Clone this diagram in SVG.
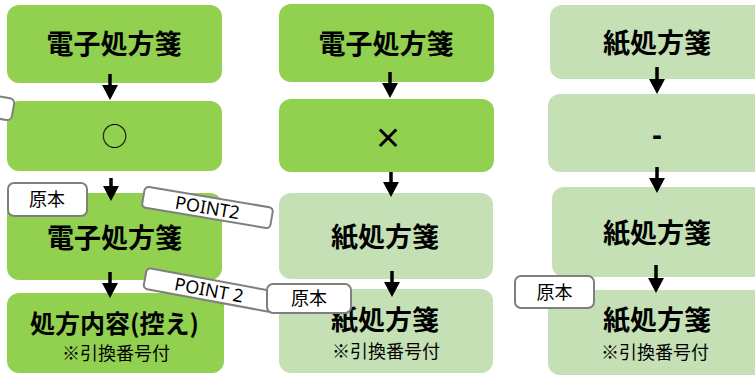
<svg xmlns="http://www.w3.org/2000/svg" width="755" height="376" viewBox="0 0 755 376">
<defs>
<style>
.dk{fill:#92d050}
.lt{fill:#c5e0b4}
.t{font-family:"Noto Sans CJK JP","Noto Sans",sans-serif;font-weight:bold;font-size:27px;fill:#000;text-anchor:middle}
.t2{font-family:"Noto Sans CJK JP","Noto Sans",sans-serif;font-weight:bold;font-size:25px;fill:#000;text-anchor:middle}
.s{font-family:"Noto Sans CJK JP","Noto Sans",sans-serif;font-size:18px;fill:#000;text-anchor:middle}
.lb{fill:#fff;stroke:#7f7f7f;stroke-width:2}
.lbt{font-family:"Noto Sans CJK JP","Noto Sans",sans-serif;font-size:18px;fill:#000;text-anchor:middle}
.pt{font-family:"Noto Sans","Noto Sans CJK JP",sans-serif;font-size:18px;fill:#000;text-anchor:middle}
.ar{stroke:#000;stroke-width:3.5;fill:none;marker-end:url(#ah)}
</style>
<marker id="ah" markerUnits="userSpaceOnUse" markerWidth="16" markerHeight="16" refX="8" refY="8" orient="auto">
<path d="M0,0 L15,8 L0,16 z" fill="#000"/>
</marker>
</defs>

<!-- column 1 -->
<g id="c1n1"><rect class="dk" x="7" y="5" width="215" height="78" rx="12"/><text class="t" x="114" y="54">電子処方箋</text></g>
<g id="c1n2"><rect class="dk" x="7" y="101" width="215" height="70" rx="12"/><text class="t" x="114.5" y="146" style="font-weight:normal;font-size:26px">○</text></g>
<g id="c1n3"><rect class="dk" x="7" y="193" width="215" height="87" rx="12"/><text class="t" x="114.5" y="248">電子処方箋</text></g>
<g id="c1n4"><rect class="dk" x="7" y="293" width="217" height="80" rx="12"/><text class="t2" x="114.5" y="333">処方内容(控え)</text><text class="s" x="116" y="360">※引換番号付</text></g>

<!-- column 2 -->
<g id="c2n1"><rect class="dk" x="279" y="4" width="215" height="78" rx="12"/><text class="t" x="386" y="54">電子処方箋</text></g>
<g id="c2n2"><rect class="dk" x="279" y="99" width="215" height="73" rx="12"/><text class="t" x="388" y="149" style="font-size:28px">×</text></g>
<g id="c2n3"><rect class="lt" x="279" y="193" width="214" height="86" rx="12"/><text class="t" x="385" y="247">紙処方箋</text></g>
<g id="c2n4"><rect class="lt" x="279" y="289" width="214" height="84" rx="12"/><text class="t" x="385" y="330">紙処方箋</text><text class="s" x="386" y="358">※引換番号付</text></g>

<!-- column 3 -->
<g id="c3n1"><rect class="lt" x="550" y="5" width="220" height="74" rx="12"/><text class="t" x="657" y="53">紙処方箋</text></g>
<g id="c3n2"><rect class="lt" x="548" y="94" width="222" height="78" rx="12"/><text x="657" y="145" style="font-family:'Liberation Sans',sans-serif;font-weight:bold;font-size:30px;text-anchor:middle">-</text></g>
<g id="c3n3"><rect class="lt" x="552" y="187" width="218" height="90" rx="12"/><text class="t" x="657" y="243">紙処方箋</text></g>
<g id="c3n4"><rect class="lt" x="548" y="290" width="222" height="85" rx="12"/><text class="t" x="657" y="330">紙処方箋</text><text class="s" x="655" y="359">※引換番号付</text></g>

<!-- connectors -->
<g id="connectors">
<line class="ar" x1="110" y1="74" x2="110" y2="93"/>
<line class="ar" x1="111" y1="178" x2="111" y2="194"/>
<line class="ar" x1="110" y1="272" x2="110" y2="291"/>
<line class="ar" x1="390" y1="72" x2="390" y2="91"/>
<line class="ar" x1="391" y1="172" x2="391" y2="190"/>
<line class="ar" x1="392" y1="271" x2="392" y2="290"/>
<line class="ar" x1="657" y1="67" x2="657" y2="87"/>
<line class="ar" x1="657" y1="167" x2="657" y2="186"/>
<line class="ar" x1="656" y1="265" x2="656" y2="286"/>
</g>

<!-- labels -->
<g id="lblEdge"><rect class="lb" x="-117" y="99" width="130" height="22" rx="5" transform="rotate(10 13 110)"/></g>
<g id="lblGenpon1"><rect class="lb" x="8" y="183" width="79" height="33" rx="6"/><text class="lbt" x="47" y="206">原本</text></g>
<g id="lblPoint1" transform="rotate(9.5 207.5 207.5)"><rect class="lb" x="142.5" y="197" width="130" height="21" rx="4"/><text class="pt" x="207.5" y="214">POINT2</text></g>
<g id="lblPoint2" transform="rotate(10.5 209 290)"><rect class="lb" x="144" y="279.5" width="130" height="21" rx="4"/><text class="pt" x="209" y="296.5">POINT 2</text></g>
<g id="lblGenpon2"><rect class="lb" x="267" y="284" width="84" height="29" rx="6"/><text class="lbt" x="309" y="305">原本</text></g>
<g id="lblGenpon3"><rect class="lb" x="515" y="276" width="79" height="32" rx="6"/><text class="lbt" x="554.5" y="298.5">原本</text></g>
</svg>
